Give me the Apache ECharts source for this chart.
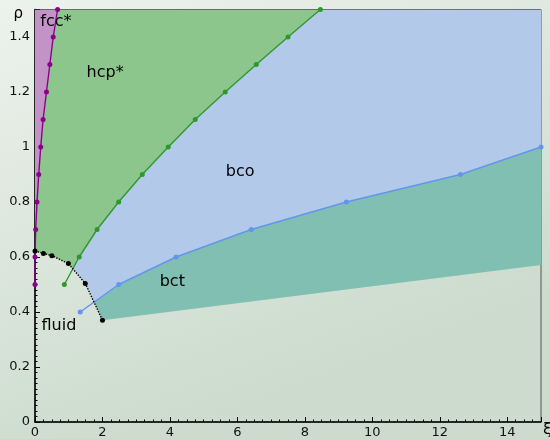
<!DOCTYPE html>
<html><head><meta charset="utf-8">
<script src="https://cdn.jsdelivr.net/npm/echarts@6/dist/echarts.min.js"></script>
<style>html,body{margin:0;padding:0;}#c{width:550px;height:439px;}</style>
</head><body><div id="c"></div>
<script>
// phase boundaries (xi, rho)
const fluidLine = [[0,0.622],[0.25,0.613],[0.5,0.605],[0.99,0.576],[1.49,0.504],[2.0,0.37]];
const fccLine = [[0,0.5],[0,0.6],[0.02,0.7],[0.06,0.8],[0.11,0.9],[0.17,1.0],[0.24,1.1],[0.34,1.2],[0.44,1.3],[0.54,1.4],[0.67,1.5]];
const hcpLine = [[0.87,0.5],[1.31,0.6],[1.84,0.7],[2.48,0.8],[3.18,0.9],[3.95,1.0],[4.75,1.1],[5.64,1.2],[6.56,1.3],[7.5,1.4],[8.46,1.5]];
const bcoLine = [[1.34,0.4],[2.48,0.5],[4.18,0.6],[6.41,0.7],[9.23,0.8],[12.61,0.9],[15,1.0]];
const bctLower = [[2.0,0.37],[15,0.571]];
const xMax = 15, yMax = 1.5;
const phaseNames = ['fcc*','hcp*','bco','bct','fluid'];
const labelAnchors = [[0.62,1.455],[2.08,1.27],[6.08,0.909],[4.07,0.509],[0.71,0.349]];

function segInt(p1,p2,p3,p4){
  const d=(p2[0]-p1[0])*(p4[1]-p3[1])-(p2[1]-p1[1])*(p4[0]-p3[0]);
  if(Math.abs(d)<1e-12) return null;
  const t=((p3[0]-p1[0])*(p4[1]-p3[1])-(p3[1]-p1[1])*(p4[0]-p3[0]))/d;
  const u=((p3[0]-p1[0])*(p2[1]-p1[1])-(p3[1]-p1[1])*(p2[0]-p1[0]))/d;
  if(t<0||t>1||u<0||u>1) return null;
  return [p1[0]+t*(p2[0]-p1[0]), p1[1]+t*(p2[1]-p1[1])];
}
function intersect(A,B){
  for(let i=0;i<A.length-1;i++) for(let j=0;j<B.length-1;j++){
    const p=segInt(A[i],A[i+1],B[j],B[j+1]);
    if(p) return {pt:p, ia:i, ib:j};
  }
  return null;
}
const Xg = intersect(fluidLine, hcpLine);
const Xb = intersect(fluidLine, bcoLine);
const fccAbove = fccLine.filter(p=>p[1]>fluidLine[0][1]);

const fccPoly = [fluidLine[0], ...fccAbove, [0,yMax]];
const hcpPoly = [...fluidLine.slice(0,Xg.ia+1), Xg.pt, ...hcpLine.slice(Xg.ib+1), ...fccAbove.slice().reverse()];
const bcoPoly = [Xg.pt, ...fluidLine.slice(Xg.ia+1, Xb.ia+1), Xb.pt, ...bcoLine.slice(Xb.ib+1), [xMax,yMax], ...hcpLine.slice(Xg.ib+1).reverse()];
const bctPoly = [Xb.pt, ...fluidLine.slice(Xb.ia+1), bctLower[1], ...bcoLine.slice(Xb.ib+1).reverse()];

function poly(pts, color){
  return {type:'custom', silent:true, z:1, clip:true, data:[[0,0]],
    renderItem:(params,api)=>({type:'polygon', shape:{points:pts.map(p=>api.coord(p))}, style:{fill:color}})};
}
function line(pts, color, type){
  return {type:'line', data:pts, z:3, silent:true, symbol:'circle', symbolSize:5, showSymbol:true,
    lineStyle:{color:color, width:1.4, type:type||'solid'}, itemStyle:{color:color}, animation:false};
}

const chart = echarts.init(document.getElementById('c'));
chart.setOption({
  animation:false,
  backgroundColor:{type:'linear',x:0,y:0,x2:0.3,y2:1,colorStops:[{offset:0,color:'#edf2ed'},{offset:1,color:'#ccdbcd'}]},
  grid:{left:35,right:9,top:9.5,bottom:17,outerBoundsMode:'none',show:true,borderColor:'#555',borderWidth:1,backgroundColor:'transparent'},
  xAxis:{type:'value',min:0,max:xMax,interval:2,name:'ξ',nameLocation:'end',nameGap:2,
    nameTextStyle:{fontFamily:'DejaVu Sans',fontSize:16,color:'#000',verticalAlign:'top',padding:[0,0,0,0]},
    axisLine:{lineStyle:{color:'#000',width:1.5}},
    axisTick:{inside:true,length:5,lineStyle:{color:'#000'}},
    minorTick:{show:true,splitNumber:8,length:2.5,lineStyle:{color:'#000'}},
    splitLine:{show:false},
    axisLabel:{fontFamily:'DejaVu Sans',fontSize:13,color:'#111',margin:4,showMaxLabel:false}},
  yAxis:{type:'value',min:0,max:yMax,interval:0.2,name:'ρ',nameLocation:'end',nameGap:-12,
    nameTextStyle:{fontFamily:'DejaVu Sans',fontSize:15,color:'#000',align:'right',padding:[0,12,0,0]},
    axisLine:{lineStyle:{color:'#000',width:1.5}},
    axisTick:{inside:true,length:5,lineStyle:{color:'#000'}},
    minorTick:{show:true,splitNumber:10,length:2.5,lineStyle:{color:'#000'}},
    splitLine:{show:false},
    axisLabel:{fontFamily:'DejaVu Sans',fontSize:13,color:'#111',margin:5,showMaxLabel:false}},
  series:[
    poly(bcoPoly,'#b3c9ea'),
    poly(bctPoly,'#80bfb1'),
    poly(hcpPoly,'#8dc68c'),
    poly(fccPoly,'#c393c8'),
    line(hcpLine,'#2d982d'),
    line(bcoLine,'#6495ed'),
    line(fccLine,'#8b008b'),
    line(fluidLine,'#000','dotted'),
    {type:'scatter', z:5, silent:true, symbolSize:0, itemStyle:{opacity:1},
      data:labelAnchors.map((p,i)=>({value:p, name:phaseNames[i]})),
      label:{show:true, position:'inside', formatter:'{b}', fontFamily:'DejaVu Sans', fontSize:16, color:'#000', opacity:1, textBorderWidth:0}}
  ]
});
</script></body></html>
